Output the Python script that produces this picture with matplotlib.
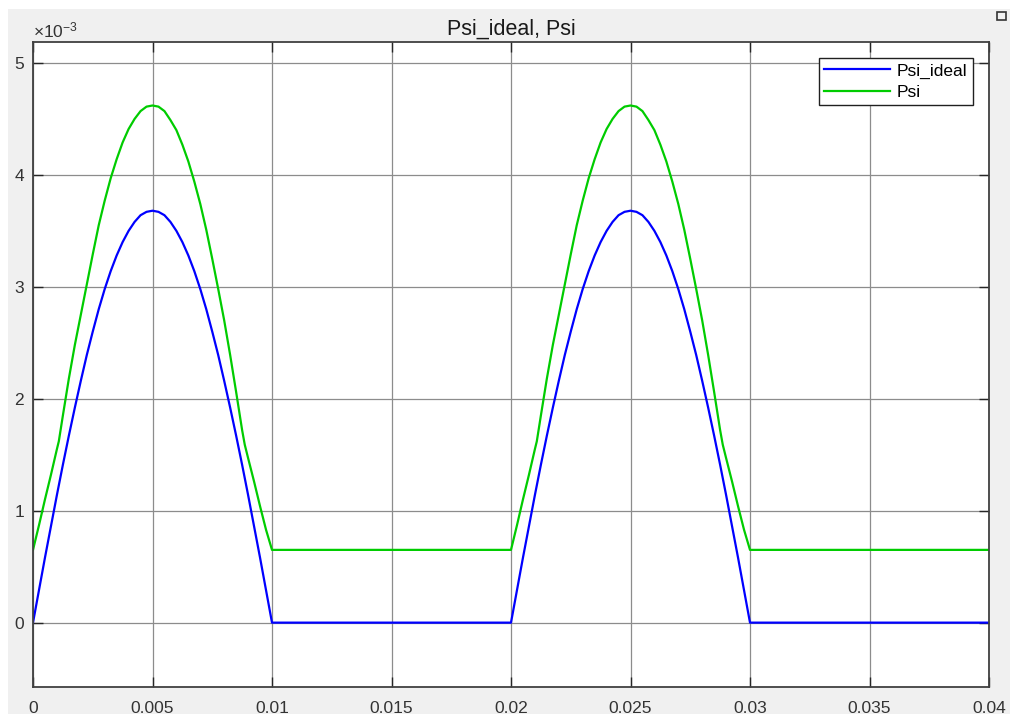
import numpy as np
import matplotlib
matplotlib.use("Agg")
import matplotlib.pyplot as plt
from matplotlib.patches import Rectangle
from matplotlib.ticker import ScalarFormatter

plt.rcParams['font.family'] = ['Liberation Sans', 'DejaVu Sans']
plt.rcParams['mathtext.fontset'] = 'custom'
plt.rcParams['mathtext.rm'] = 'Liberation Sans'

# one hump (period 0.02 s), values in 1e-3 units
hump_t_ideal = [0, 0.00025, 0.0005, 0.00075, 0.001, 0.00125, 0.0015, 0.00175, 0.002, 0.00225,
                0.0025, 0.00275, 0.003, 0.00325, 0.0035, 0.00375, 0.004, 0.00425, 0.0045, 0.00475,
                0.005, 0.00525, 0.0055, 0.00575, 0.006, 0.00625, 0.0065, 0.00675, 0.007, 0.00725,
                0.0075, 0.00775, 0.008, 0.00825, 0.0085, 0.00875, 0.009, 0.00925, 0.0095, 0.00975, 0.01]
hump_psi_ideal = [0, 0.29, 0.58, 0.86, 1.14, 1.41, 1.67, 1.92, 2.16, 2.39,
                  2.60, 2.80, 2.98, 3.14, 3.28, 3.40, 3.50, 3.58, 3.64, 3.67,
                  3.68, 3.67, 3.64, 3.58, 3.50, 3.40, 3.28, 3.14, 2.98, 2.80,
                  2.60, 2.39, 2.16, 1.92, 1.67, 1.41, 1.14, 0.86, 0.58, 0.29, 0]

hump_t_psi = [0, 0.00025, 0.0005, 0.00075, 0.001, 0.00108, 0.00125, 0.0015, 0.00175, 0.002, 0.00225,
              0.0025, 0.00275, 0.003, 0.00325, 0.0035, 0.00375, 0.004, 0.00425, 0.0045, 0.00475,
              0.005, 0.00525, 0.0055, 0.00575, 0.006, 0.00625, 0.0065, 0.00675, 0.007, 0.00725,
              0.0075, 0.00775, 0.008, 0.00825, 0.0085, 0.00875, 0.00886, 0.009, 0.00925, 0.0095,
              0.00975, 0.01]
hump_psi = [0.65, 0.87, 1.10, 1.32, 1.55, 1.62, 1.85, 2.18, 2.48, 2.75, 3.02,
            3.29, 3.55, 3.77, 3.97, 4.14, 4.29, 4.41, 4.50, 4.57, 4.61,
            4.62, 4.61, 4.57, 4.49, 4.40, 4.27, 4.12, 3.94, 3.74, 3.51,
            3.25, 2.98, 2.70, 2.39, 2.06, 1.72, 1.59, 1.47, 1.26, 1.04,
            0.83, 0.65]

period = 0.02
t_end = 0.04

# build the two periods (hump then flat segment)
def two_periods(ht, hv, flat):
    t = list(ht) + [period] + [x + period for x in ht] + [t_end]
    v = list(hv) + [flat] + list(hv) + [flat]
    return np.array(t), np.array(v) * 1e-3

t_ideal, psi_ideal = two_periods(hump_t_ideal, hump_psi_ideal, 0.0)
t_psi, psi = two_periods(hump_t_psi, hump_psi, 0.65)

fig = plt.figure(figsize=(10.1, 7.14), dpi=100, facecolor='white')
fig.patches.append(Rectangle((8 / 1010, 0), 1, 1 - 9 / 714, transform=fig.transFigure,
                             facecolor='#f0f0f0', edgecolor='none', zorder=-10))
# small export icon in the corner
fig.patches.append(Rectangle((997 / 1010, 1 - 20 / 714), 9 / 1010, 8 / 714, transform=fig.transFigure,
                             facecolor='#f0f0f0', edgecolor='#333333', lw=1.2))
ax = fig.add_axes([33 / 1010, 1 - 687 / 714, 956 / 1010, 645.3 / 714])

ax.plot(t_ideal, psi_ideal, color='#0000ff', lw=1.6, label='Psi_ideal')
ax.plot(t_psi, psi, color='#00cc00', lw=1.6, label='Psi')

ax.set_xlim(0, 0.04)
ax.set_ylim(-0.575e-3, 5.19e-3)
ax.set_xticks(np.arange(0, 0.0401, 0.005))
ax.set_xticklabels(['0', '0.005', '0.01', '0.015', '0.02', '0.025', '0.03', '0.035', '0.04'])
ax.set_yticks(np.arange(0, 5.1e-3, 1e-3))
fmt = ScalarFormatter(useMathText=True)
fmt.set_powerlimits((-2, 2))
ax.yaxis.set_major_formatter(fmt)
ax.yaxis.get_offset_text().set_fontsize(12.5)
ax.yaxis.get_offset_text().set_color('#404040')

ax.grid(True, color='#8c8c8c', lw=0.9)
ax.tick_params(direction='in', length=7, width=1, top=True, right=True,
               labelsize=12.5, labelcolor='#333333', color='#262626')
ax.tick_params(axis='x', pad=10)
ax.tick_params(axis='y', pad=6)
for s in ax.spines.values():
    s.set_color('#404040')
    s.set_linewidth(1.3)

ax.set_title('Psi_ideal, Psi', fontsize=15.5, color='#1a1a1a', pad=5)

leg = ax.legend(loc='upper right', fontsize=12.5, handlelength=3.8, fancybox=False,
                edgecolor='#202020', framealpha=1, borderaxespad=0.95, labelspacing=0.35,
                borderpad=0.3, handletextpad=0.4)
leg.get_frame().set_linewidth(1.0)

fig.savefig('out.png', dpi=100, facecolor=fig.get_facecolor())
